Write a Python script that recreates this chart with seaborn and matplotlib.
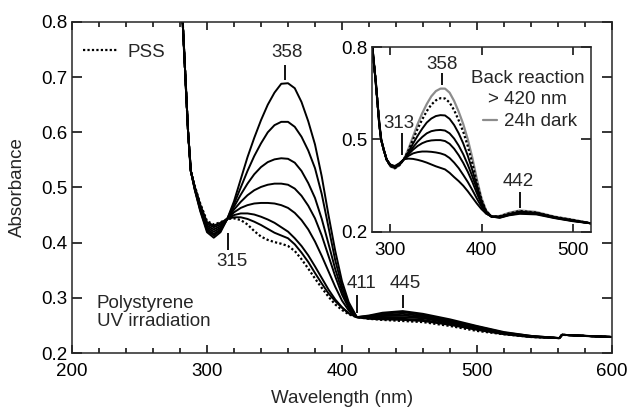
import numpy as np
import pandas as pd
import seaborn as sns
import matplotlib.pyplot as plt
from matplotlib.lines import Line2D
from matplotlib.ticker import MultipleLocator

# main panel: UV irradiation of the film
wl_main = [280, 282, 284, 286, 288, 291, 295, 300, 305, 310,
           315, 320, 325, 330, 335, 340, 345, 350, 355, 360,
           365, 370, 375, 380, 385, 390, 395, 400, 405, 411,
           420, 430, 445, 460, 480, 500, 520, 540, 561, 563, 580, 600]

main_1 = [0.90, 0.80, 0.70, 0.60, 0.53, 0.495, 0.457, 0.419, 0.409, 0.419,
          0.443, 0.475, 0.515, 0.555, 0.590, 0.622, 0.650, 0.672, 0.688, 0.689,
          0.680, 0.655, 0.620, 0.578, 0.520, 0.450, 0.385, 0.330, 0.292, 0.265,
          0.268, 0.273, 0.276, 0.271, 0.261, 0.249, 0.238, 0.231, 0.227, 0.233, 0.231, 0.229]
main_2 = [0.90, 0.80, 0.70, 0.60, 0.53, 0.496, 0.459, 0.422, 0.413, 0.422,
          0.443, 0.470, 0.500, 0.530, 0.557, 0.580, 0.600, 0.613, 0.619, 0.619,
          0.610, 0.592, 0.567, 0.535, 0.488, 0.428, 0.368, 0.321, 0.288, 0.265,
          0.267, 0.271, 0.274, 0.269, 0.259, 0.248, 0.237, 0.231, 0.227, 0.233, 0.231, 0.229]
main_3 = [0.90, 0.80, 0.70, 0.60, 0.53, 0.497, 0.461, 0.425, 0.416, 0.424,
          0.443, 0.465, 0.487, 0.507, 0.524, 0.537, 0.546, 0.551, 0.553, 0.552,
          0.545, 0.530, 0.508, 0.481, 0.443, 0.398, 0.352, 0.313, 0.284, 0.265,
          0.266, 0.269, 0.271, 0.267, 0.258, 0.247, 0.236, 0.230, 0.227, 0.233, 0.231, 0.229]
main_4 = [0.90, 0.80, 0.70, 0.60, 0.53, 0.498, 0.463, 0.428, 0.420, 0.427,
          0.443, 0.460, 0.474, 0.486, 0.495, 0.501, 0.505, 0.507, 0.507, 0.505,
          0.498, 0.485, 0.467, 0.444, 0.413, 0.376, 0.339, 0.306, 0.281, 0.265,
          0.265, 0.267, 0.268, 0.265, 0.256, 0.245, 0.236, 0.230, 0.227, 0.233, 0.231, 0.229]
main_5 = [0.90, 0.80, 0.70, 0.60, 0.53, 0.499, 0.465, 0.431, 0.424, 0.430,
          0.443, 0.455, 0.463, 0.468, 0.471, 0.472, 0.472, 0.471, 0.468, 0.463,
          0.454, 0.441, 0.424, 0.402, 0.376, 0.348, 0.320, 0.295, 0.277, 0.265,
          0.264, 0.265, 0.265, 0.263, 0.254, 0.244, 0.235, 0.230, 0.227, 0.233, 0.231, 0.229]
main_6 = [0.90, 0.80, 0.70, 0.60, 0.53, 0.500, 0.467, 0.434, 0.428, 0.433,
          0.443, 0.450, 0.453, 0.453, 0.451, 0.447, 0.442, 0.436, 0.428, 0.420,
          0.408, 0.394, 0.377, 0.357, 0.336, 0.315, 0.297, 0.283, 0.272, 0.265,
          0.263, 0.263, 0.262, 0.260, 0.252, 0.243, 0.235, 0.229, 0.227, 0.233, 0.231, 0.229]
main_7 = [0.90, 0.80, 0.70, 0.60, 0.53, 0.501, 0.469, 0.437, 0.431, 0.436,
          0.443, 0.446, 0.446, 0.443, 0.438, 0.432, 0.425, 0.418, 0.413, 0.408,
          0.397, 0.382, 0.365, 0.345, 0.326, 0.308, 0.294, 0.282, 0.272, 0.265,
          0.262, 0.261, 0.260, 0.258, 0.251, 0.242, 0.234, 0.229, 0.227, 0.233, 0.231, 0.229]
main_pss = [0.90, 0.80, 0.70, 0.60, 0.53, 0.502, 0.471, 0.439, 0.433, 0.437,
            0.443, 0.444, 0.441, 0.433, 0.421, 0.411, 0.405, 0.401, 0.398, 0.394,
            0.385, 0.370, 0.353, 0.335, 0.318, 0.302, 0.288, 0.278, 0.270, 0.265,
            0.262, 0.260, 0.258, 0.256, 0.249, 0.240, 0.234, 0.229, 0.227, 0.233, 0.231, 0.229]

# inset: back reaction
wl_inset = [280, 282, 284, 286, 288, 290, 293, 296, 300, 305,
            310, 315, 320, 325, 330, 335, 340, 345, 350, 355,
            360, 365, 370, 375, 380, 385, 390, 395, 400, 405,
            411, 420, 430, 442, 460, 480, 500, 520]

inset_dark = [0.81, 0.75, 0.69, 0.62, 0.55, 0.50, 0.465, 0.435, 0.413, 0.406,
              0.416, 0.436, 0.470, 0.510, 0.550, 0.585, 0.615, 0.640, 0.657, 0.665,
              0.665, 0.652, 0.625, 0.590, 0.550, 0.500, 0.440, 0.370, 0.310, 0.270,
              0.250, 0.252, 0.262, 0.270, 0.265, 0.250, 0.240, 0.228]
inset_dotted = [0.81, 0.75, 0.69, 0.62, 0.55, 0.50, 0.465, 0.435, 0.414, 0.407,
                0.417, 0.436, 0.465, 0.500, 0.535, 0.565, 0.592, 0.613, 0.627, 0.634,
                0.633, 0.620, 0.595, 0.562, 0.525, 0.478, 0.422, 0.360, 0.305, 0.268,
                0.250, 0.251, 0.260, 0.268, 0.263, 0.249, 0.239, 0.228]
inset_1 = [0.81, 0.75, 0.69, 0.62, 0.55, 0.50, 0.465, 0.435, 0.415, 0.408,
           0.418, 0.436, 0.460, 0.487, 0.512, 0.535, 0.555, 0.568, 0.576, 0.579,
           0.578, 0.567, 0.547, 0.520, 0.487, 0.447, 0.400, 0.350, 0.300, 0.267,
           0.250, 0.250, 0.258, 0.266, 0.262, 0.248, 0.238, 0.228]
inset_2 = [0.81, 0.75, 0.69, 0.62, 0.55, 0.50, 0.465, 0.435, 0.416, 0.410,
           0.419, 0.436, 0.455, 0.475, 0.493, 0.508, 0.520, 0.527, 0.530, 0.531,
           0.529, 0.520, 0.503, 0.480, 0.452, 0.418, 0.380, 0.338, 0.295, 0.265,
           0.250, 0.249, 0.257, 0.264, 0.261, 0.247, 0.237, 0.228]
inset_3 = [0.81, 0.75, 0.69, 0.62, 0.55, 0.50, 0.465, 0.435, 0.417, 0.411,
           0.420, 0.436, 0.452, 0.467, 0.479, 0.488, 0.494, 0.497, 0.498, 0.498,
           0.495, 0.486, 0.470, 0.449, 0.424, 0.395, 0.362, 0.325, 0.290, 0.263,
           0.250, 0.248, 0.256, 0.263, 0.260, 0.247, 0.237, 0.228]
inset_4 = [0.81, 0.75, 0.69, 0.62, 0.55, 0.50, 0.465, 0.435, 0.418, 0.412,
           0.421, 0.436, 0.447, 0.455, 0.459, 0.461, 0.461, 0.460, 0.458, 0.455,
           0.450, 0.440, 0.425, 0.407, 0.385, 0.362, 0.336, 0.308, 0.282, 0.260,
           0.250, 0.247, 0.255, 0.261, 0.259, 0.246, 0.236, 0.228]
inset_5 = [0.81, 0.75, 0.69, 0.62, 0.55, 0.50, 0.465, 0.435, 0.419, 0.414,
           0.423, 0.436, 0.438, 0.437, 0.434, 0.430, 0.425, 0.419, 0.413, 0.408,
           0.403, 0.392, 0.378, 0.365, 0.350, 0.332, 0.312, 0.292, 0.274, 0.260,
           0.250, 0.246, 0.254, 0.259, 0.257, 0.245, 0.235, 0.228]

main_xticks = [200, 300, 400, 500, 600]
main_yticks = [0.2, 0.3, 0.4, 0.5, 0.6, 0.7, 0.8]
inset_xticks = [300, 400, 500]
inset_yticks = [0.2, 0.5, 0.8]

sns.set_theme(style='ticks')
plt.rcParams['font.family'] = ['Liberation Sans', 'DejaVu Sans']
plt.rcParams['font.size'] = 13.5
plt.rcParams['axes.linewidth'] = 1.1

fig = plt.figure(figsize=(6.3, 4.08), dpi=100)
ax = fig.add_axes([0.1143, 0.1348, 0.8571, 0.8113])
ins = fig.add_axes([0.5905, 0.4314, 0.3476, 0.4534])

for vals in [main_1, main_2, main_3, main_4, main_5, main_6, main_7]:
    sns.lineplot(x=wl_main, y=vals, ax=ax, color='black', lw=1.4)
sns.lineplot(x=wl_main, y=main_pss, ax=ax, color='black', lw=1.6, linestyle=(0, (1, 1)))

ax.set_xlim(200, 600)
ax.set_ylim(0.2, 0.8)
ax.set_xticks(main_xticks)
ax.set_yticks(main_yticks)
ax.set_yticklabels([f'{v:.1f}' for v in main_yticks])
ax.xaxis.set_minor_locator(MultipleLocator(20))
ax.tick_params(axis='both', which='both', direction='in', top=True, right=True,
               width=1.1, colors='black', labelsize=13.5)
ax.tick_params(axis='x', which='major', length=6, pad=7)
ax.tick_params(axis='x', which='minor', length=3.5)
ax.tick_params(axis='y', which='major', length=7, pad=3.5)
ax.set_xlabel('Wavelength (nm)', fontsize=13.5)
ax.set_ylabel('Absorbance', fontsize=13.5)
ax.xaxis.set_label_coords(0.5, -0.112)
ax.yaxis.set_label_coords(-0.085, 0.5)

# peak labels with short marker lines
ax.vlines(358, 0.695, 0.722, color='black', lw=1.3)
ax.text(359, 0.745, '358', ha='center', va='center')
ax.vlines(315.5, 0.387, 0.417, color='black', lw=1.3)
ax.text(318.5, 0.365, '315', ha='center', va='center')
ax.vlines(411, 0.272, 0.305, color='black', lw=1.3)
ax.text(414.5, 0.326, '411', ha='center', va='center')
ax.vlines(445, 0.281, 0.305, color='black', lw=1.3)
ax.text(447, 0.326, '445', ha='center', va='center')
ax.text(0.046, 0.123, 'Polystyrene\nUV irradiation', transform=ax.transAxes,
        ha='left', va='center', linespacing=1.1)

ax.legend(handles=[Line2D([], [], color='black', lw=1.6, linestyle=(0, (1, 1)))],
          labels=['PSS'], loc='center left', bbox_to_anchor=(0.02, 0.909),
          frameon=False, borderpad=0, borderaxespad=0, handlelength=1.8,
          handletextpad=0.6, fontsize=13.5)

# inset: grey drawn first so the black curves sit on top where they overlap
sns.lineplot(x=wl_inset, y=inset_dark, ax=ins, color='#8c8c8c', lw=1.6)
for vals in [inset_1, inset_2, inset_3, inset_4, inset_5]:
    sns.lineplot(x=wl_inset, y=vals, ax=ins, color='black', lw=1.4)
sns.lineplot(x=wl_inset, y=inset_dotted, ax=ins, color='black', lw=1.6, linestyle=(0, (1, 1)))

ins.set_xlim(280, 520)
ins.set_ylim(0.2, 0.8)
ins.set_xticks(inset_xticks)
ins.set_yticks(inset_yticks)
ins.set_yticklabels([f'{v:.1f}' for v in inset_yticks])
ins.tick_params(axis='both', which='both', direction='in', top=True, right=True,
                width=1.1, colors='black', labelsize=13.5)
ins.tick_params(axis='x', length=5.5, pad=7)
ins.tick_params(axis='y', length=7, pad=3.5)
ins.set_facecolor('white')

ins.vlines(357, 0.677, 0.716, color='black', lw=1.3)
ins.text(357, 0.742, '358', ha='center', va='center')
ins.vlines(313, 0.45, 0.521, color='black', lw=1.3)
ins.text(310, 0.553, '313', ha='center', va='center')
ins.vlines(442, 0.277, 0.33, color='black', lw=1.3)
ins.text(440, 0.363, '442', ha='center', va='center')
ins.text(0.711, 0.831, 'Back reaction', transform=ins.transAxes, ha='center', va='center')
ins.text(0.711, 0.714, '> 420 nm', transform=ins.transAxes, ha='center', va='center')
ins.legend(handles=[Line2D([], [], color='#8c8c8c', lw=1.6)], labels=['24h dark'],
           loc='center left', bbox_to_anchor=(0.505, 0.595), frameon=False,
           borderpad=0, borderaxespad=0, handlelength=0.75, handletextpad=0.4,
           fontsize=13.5)

fig.savefig('out.png', dpi=100)
